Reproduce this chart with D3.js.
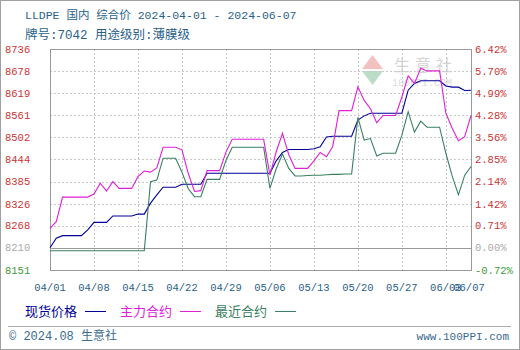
<!DOCTYPE html>
<html>
<head>
<meta charset="utf-8">
<script src="https://cdn.jsdelivr.net/npm/d3@7"></script>
<style>
  body { margin: 0; background: #fff; }
  text { font-family: "Liberation Mono", "Noto Sans CJK SC", monospace; }
  .cjk { font-family: "Noto Sans CJK SC", sans-serif; }
</style>
</head>
<body>
<div id="chart"></div>
<script>
// ---- data ----
const startDate = new Date(2024, 3, 1), endDate = new Date(2024, 5, 7);
const yTicks = [8736, 8678, 8619, 8561, 8502, 8444, 8385, 8326, 8268, 8210, 8151];
const pctTicks = ["6.42%", "5.70%", "4.99%", "4.28%", "3.56%", "2.85%", "2.14%", "1.42%", "0.71%", "0.00%", "-0.72%"];
const xTickLabels = ["04/01", "04/08", "04/15", "04/22", "04/29", "05/06", "05/13", "05/20", "05/27", "06/03", "06/07"];
const baseValue = 8210;

// one value per calendar day 04/01 .. 06/07
const spot = [8210,8235,8242,8242,8242,8242,8257,8277,8277,8277,
  8294,8294,8294,8294,8299,8299,8328,8350,8370,8370,
  8370,8378,8378,8378,8378,8407,8407,8407,8407,8407,
  8407,8407,8407,8407,8407,8407,8440,8462,8470,8470,
  8470,8470,8472,8477,8503,8505,8505,8505,8505,8548,
  8559,8566,8566,8566,8566,8566,8566,8627,8645,8652,
  8652,8652,8652,8638,8635,8635,8626,8627];
const mainContract = [8261,8279,8344,8344,8344,8344,8344,8352,8381,8360,
  8385,8367,8367,8367,8398,8413,8410,8421,8476,8476,
  8476,8469,8407,8359,8361,8414,8414,8414,8463,8497,
  8497,8497,8497,8497,8497,8402,8464,8513,8456,8420,
  8420,8420,8440,8462,8451,8478,8573,8573,8573,8636,
  8600,8578,8541,8560,8560,8560,8609,8665,8645,8685,
  8678,8678,8678,8566,8526,8493,8504,8560];
const nearContract = [8202,8202,8202,8202,8202,8202,8202,8202,8202,8202,
  8202,8202,8202,8202,8202,8202,8385,8389,8447,8447,
  8447,8410,8366,8345,8345,8391,8391,8391,8441,8476,
  8476,8476,8476,8476,8476,8367,8419,8458,8420,8400,
  8400,8401,8402,8402,8403,8404,8404,8405,8405,8555,
  8495,8499,8453,8460,8460,8460,8508,8570,8516,8545,
  8529,8529,8529,8460,8400,8350,8402,8425];

const seriesNames = ["现货价格", "主力合约", "最近合约"];
const seriesColors = ["#000099", "#e020d8", "#3a8060"];

// ---- layout ----
const width = 520, height = 350;
const pL = 50, pR = 471, pT = 49, pB = 270;

const svg = d3.select("#chart").append("svg")
  .attr("width", width).attr("height", height);

svg.append("rect")
  .attr("x", 0.5).attr("y", 0.5).attr("width", width - 1).attr("height", height - 1)
  .attr("fill", "#fff").attr("stroke", "#a0a0a0");

const days = d3.timeDay.range(startDate, d3.timeDay.offset(endDate, 1));
const x = d3.scaleTime().domain([startDate, endDate]).range([pL, pR]);
const y = d3.scaleLinear().domain([d3.min(yTicks), d3.max(yTicks)]).range([pB, pT]);
const xTickDates = xTickLabels.map(s => new Date(2024, +s.slice(0, 2) - 1, +s.slice(3)));

// title
const title = svg.append("g").attr("fill", "#2a5f8a").attr("font-size", 11.5);
title.append("text").attr("x", 25).attr("y", 19).text("LLDPE 国内 综合价 2024-04-01 - 2024-06-07");
title.append("text").attr("x", 25).attr("y", 39).attr("font-size", 12.5).text("牌号:7042 用途级别:薄膜级");

// watermark
const wm = svg.append("g").attr("opacity", 0.35);
wm.append("path").attr("d", "M362,69 L372.5,55 L383,69 Z").attr("fill", "#e05050");
wm.append("path").attr("d", "M362,71 L372.5,85 L383,71 Z").attr("fill", "#40a060");
wm.append("text").attr("class", "cjk").attr("x", 394).attr("y", 71).attr("font-size", 16)
  .attr("fill", "#888").attr("letter-spacing", 5).text("生意社");
wm.append("text").attr("x", 392).attr("y", 86).attr("font-size", 10).attr("fill", "#999").text("100PPI.COM");

// grid
const grid = svg.append("g").attr("stroke", "#c8c8c8").attr("stroke-dasharray", "2,2");
grid.selectAll("line.h").data(yTicks).join("line").attr("class", "h")
  .attr("x1", pL).attr("x2", pR)
  .attr("y1", d => Math.round(y(d)) + 0.5).attr("y2", d => Math.round(y(d)) + 0.5);
grid.selectAll("line.v").data(xTickDates).join("line").attr("class", "v")
  .attr("y1", pT).attr("y2", pB)
  .attr("x1", d => Math.round(x(d)) + 0.5).attr("x2", d => Math.round(x(d)) + 0.5);

// baseline
svg.append("line")
  .attr("x1", pL).attr("x2", pR)
  .attr("y1", Math.round(y(baseValue)) + 0.5).attr("y2", Math.round(y(baseValue)) + 0.5)
  .attr("stroke", "#999");

// frame
svg.append("rect")
  .attr("x", pL + 0.5).attr("y", pT + 0.5)
  .attr("width", pR - pL).attr("height", pB - pT)
  .attr("fill", "none").attr("stroke", "#999");

// axes labels
const labColor = (i) => i === yTicks.length - 1 ? "#3a9a3a" : (yTicks[i] === baseValue ? "#aaa" : "#cc3333");
svg.append("g").attr("font-size", 10.5).selectAll("text").data(yTicks).join("text")
  .attr("x", 5).attr("y", d => y(d)).attr("dy", "0.35em")
  .attr("fill", (d, i) => labColor(i)).text(d => d);
svg.append("g").attr("font-size", 10.5).selectAll("text").data(pctTicks).join("text")
  .attr("x", 475).attr("y", (d, i) => y(yTicks[i])).attr("dy", "0.35em")
  .attr("fill", (d, i) => labColor(i)).text(d => d);

svg.append("g").attr("font-size", 10.5).attr("fill", "#2a5f8a").attr("text-anchor", "middle")
  .selectAll("text").data(xTickDates).join("text")
  .attr("x", (d, i) => i === xTickDates.length - 1 ? x(d) - 2 : x(d))
  .attr("y", 287).attr("dy", "0.35em")
  .text((d, i) => xTickLabels[i]);

// lines
const line = d3.line().x((d, i) => x(days[i])).y(d => y(d));
[spot, mainContract, nearContract].forEach((s, k) => {
  svg.append("path").datum(s).attr("d", line)
    .attr("fill", "none").attr("stroke", seriesColors[k]).attr("stroke-width", 1.1);
});

// legend
const legX = [25, 120, 215];
const leg = svg.append("g");
seriesNames.forEach((n, k) => {
  leg.append("text").attr("class", "cjk").attr("x", legX[k]).attr("y", 311).attr("dy", "0.35em")
    .attr("font-size", 13).attr("fill", seriesColors[k]).text(n);
  leg.append("line").attr("x1", legX[k] + 60).attr("x2", legX[k] + 81)
    .attr("y1", 311.5).attr("y2", 311.5).attr("stroke", seriesColors[k]);
});

// footer
svg.append("line").attr("x1", 8).attr("x2", 511).attr("y1", 326.5).attr("y2", 326.5).attr("stroke", "#aaa");
svg.append("text").attr("x", 9).attr("y", 336).attr("dy", "0.35em").attr("font-size", 12)
  .attr("fill", "#3a6a90").text("© 2024.08 生意社");
svg.append("text").attr("x", 509).attr("y", 336).attr("dy", "0.35em").attr("font-size", 11)
  .attr("text-anchor", "end").attr("fill", "#3a6a90").text("www.100PPI.com");
</script>
</body>
</html>
